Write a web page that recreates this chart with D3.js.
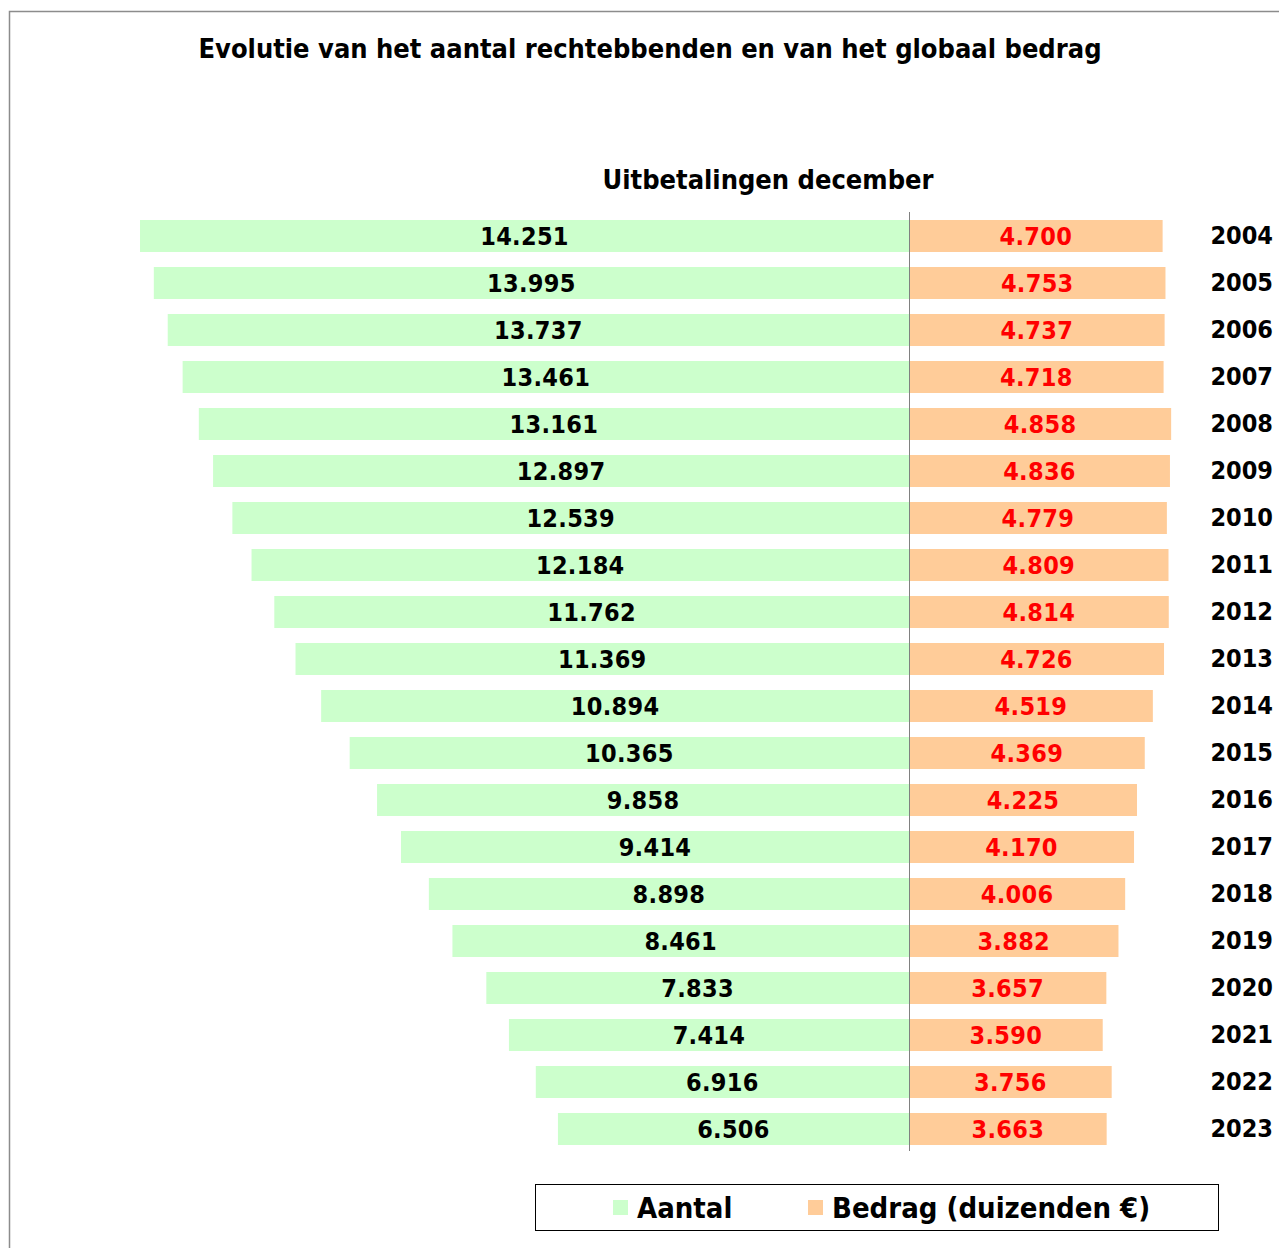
<!DOCTYPE html>
<html><head><meta charset="utf-8">
<script src="https://cdn.jsdelivr.net/npm/d3@7"></script>
<style>
body{margin:0;background:#fff;}
svg text{font-family:"DejaVu Sans Condensed","DejaVu Sans",sans-serif;font-stretch:condensed;font-weight:bold;}
</style></head>
<body>
<svg id="c" width="1279" height="1248"></svg>
<script>
const years = ["2004","2005","2006","2007","2008","2009","2010","2011","2012","2013","2014","2015","2016","2017","2018","2019","2020","2021","2022","2023"];
const aantal = [14251,13995,13737,13461,13161,12897,12539,12184,11762,11369,10894,10365,9858,9414,8898,8461,7833,7414,6916,6506];
const bedrag = [4700,4753,4737,4718,4858,4836,4779,4809,4814,4726,4519,4369,4225,4170,4006,3882,3657,3590,3756,3663];
const title = "Evolutie van het aantal rechtebbenden en van het globaal bedrag";
const subtitle = "Uitbetalingen december";
const legendLabels = ["Aantal","Bedrag (duizenden €)"];

const svg = d3.select("#c");
const cx = 909;
const fmt = v => d3.format(",")(v).replace(/,/g,".");

svg.append("rect").attr("x",9.5).attr("y",11.5).attr("width",1400).attr("height",1400)
  .attr("fill","none").attr("stroke","#8c8c8c").attr("stroke-width",1.5);

svg.append("text").attr("x",650).attr("y",58).attr("text-anchor","middle")
  .attr("font-size",27).attr("fill","#000").text(title);
svg.append("text").attr("x",768).attr("y",189).attr("text-anchor","middle")
  .attr("font-size",27).attr("fill","#000").text(subtitle);

const y = d3.scaleBand().domain(years).range([212.5,1152.5]).paddingInner(15/47).paddingOuter(7.5/47);
const x = d3.scaleLinear().domain([0,14251]).range([0,769]);

const data = years.map((yr,i)=>({yr, a:aantal[i], b:bedrag[i]}));
const g = svg.append("g");
g.selectAll("rect.a").data(data).join("rect").attr("class","a")
  .attr("x",d=>cx-x(d.a)).attr("y",d=>y(d.yr)).attr("width",d=>x(d.a)).attr("height",y.bandwidth())
  .attr("fill","#CCFFCC");
g.selectAll("rect.b").data(data).join("rect").attr("class","b")
  .attr("x",cx).attr("y",d=>y(d.yr)).attr("width",d=>x(d.b)).attr("height",y.bandwidth())
  .attr("fill","#FFCC99");

svg.append("line").attr("x1",cx+0.5).attr("x2",cx+0.5).attr("y1",212).attr("y2",1151)
  .attr("stroke","#808080").attr("stroke-width",1);

const fs = 25;
g.selectAll("text.a").data(data).join("text").attr("class","a")
  .attr("x",d=>cx-x(d.a)/2).attr("y",d=>y(d.yr)+y.bandwidth()/2+9)
  .attr("text-anchor","middle").attr("font-size",fs).attr("letter-spacing",0.3).attr("fill","#000").text(d=>fmt(d.a));
g.selectAll("text.b").data(data).join("text").attr("class","b")
  .attr("x",d=>cx+x(d.b)/2).attr("y",d=>y(d.yr)+y.bandwidth()/2+9)
  .attr("text-anchor","middle").attr("font-size",fs).attr("letter-spacing",0.3).attr("fill","#FF0000").text(d=>fmt(d.b));
g.selectAll("text.y").data(data).join("text").attr("class","y")
  .attr("x",1273).attr("y",d=>y(d.yr)+y.bandwidth()/2+8)
  .attr("text-anchor","end").attr("font-size",fs).attr("fill","#000").text(d=>d.yr);

// legend
const lg = svg.append("g");
lg.append("rect").attr("x",535.5).attr("y",1184.5).attr("width",683).attr("height",46)
  .attr("fill","#fff").attr("stroke","#000").attr("stroke-width",1);
const lcolors = ["#CCFFCC","#FFCC99"];
const lx = [613,808];
legendLabels.forEach((t,i)=>{
  lg.append("rect").attr("x",lx[i]).attr("y",1200).attr("width",15).attr("height",15).attr("fill",lcolors[i]);
  lg.append("text").attr("x",lx[i]+24).attr("y",1218).attr("font-size",29).attr("fill","#000").text(t);
});
</script>
</body></html>
